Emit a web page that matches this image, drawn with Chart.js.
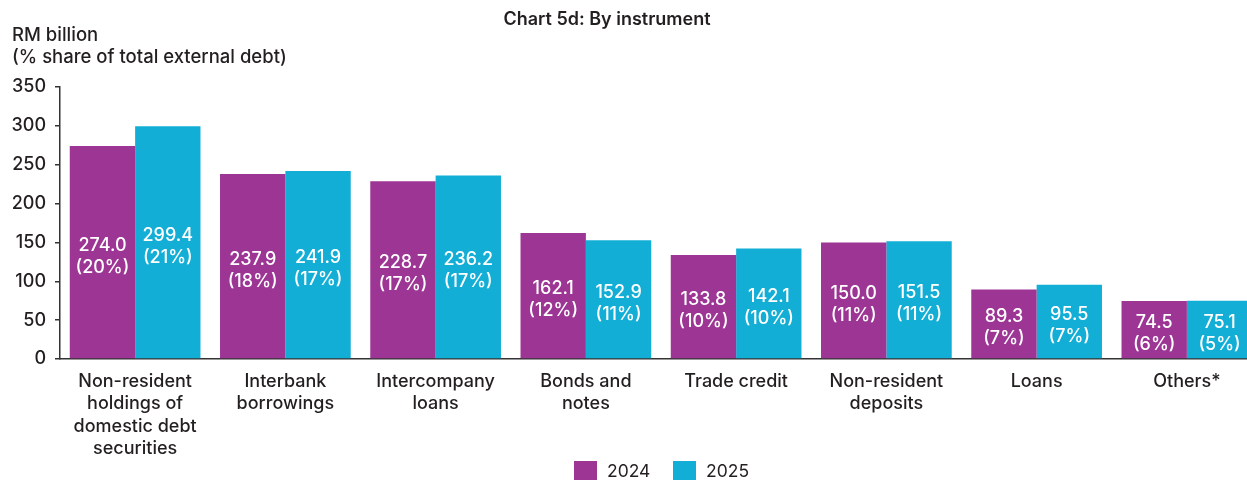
<!DOCTYPE html>
<html>
<head>
<meta charset="utf-8">
<script src="https://cdn.jsdelivr.net/npm/chart.js@4"></script>
<style>
  html, body { margin: 0; padding: 0; background: #fff; overflow: hidden; }
  #wrap { position: relative; width: 1265px; height: 480px; }
</style>
</head>
<body>
<div id="wrap"><canvas id="chart"></canvas></div>
<script>
// ── Data ────────────────────────────────────────────────────────────────
const categories = [
  ['Non-resident', 'holdings of', 'domestic debt', 'securities'],
  ['Interbank', 'borrowings'],
  ['Intercompany', 'loans'],
  ['Bonds and', 'notes'],
  ['Trade credit'],
  ['Non-resident', 'deposits'],
  ['Loans'],
  ['Others*'],
];
const values2024 = [274.0, 237.9, 228.7, 162.1, 133.8, 150.0, 89.3, 74.5];
const values2025 = [299.4, 241.9, 236.2, 152.9, 142.1, 151.5, 95.5, 75.1];
const share2024  = [20, 18, 17, 12, 10, 11, 7, 6];
const share2025  = [21, 17, 17, 11, 10, 11, 7, 5];
const yTicks     = [0, 50, 100, 150, 200, 250, 300, 350];

const PURPLE = '#9c3594';
const CYAN   = '#13aed6';
const INK    = '#231f20';
const FONT   = "Inter, 'Liberation Sans', Arial, sans-serif";

// ── Value + share labels inside each bar ────────────────────────────────
const barLabels = {
  id: 'barLabels',
  afterDatasetsDraw(chart) {
    const { ctx } = chart;
    const shares = [share2024, share2025];
    chart.data.datasets.forEach((ds, di) => {
      chart.getDatasetMeta(di).data.forEach((bar, i) => {
        const mid = (bar.y + bar.base) / 2 + 4;
        ctx.save();
        ctx.fillStyle = '#fff';
        ctx.font = `500 18px ${FONT}`;
        ctx.textAlign = 'center';
        ctx.textBaseline = 'middle';
        ctx.fillText(ds.data[i].toFixed(1), bar.x, mid - 11);
        ctx.fillText(`(${shares[di][i]}%)`, bar.x, mid + 11);
        ctx.restore();
      });
    });
  },
};

// ── Title, unit caption and legend ──────────────────────────────────────
const frameText = {
  id: 'frameText',
  afterDraw(chart) {
    const { ctx } = chart;
    ctx.save();
    ctx.fillStyle = INK;
    ctx.textBaseline = 'middle';

    ctx.font = `600 18px ${FONT}`;
    ctx.textAlign = 'center';
    ctx.fillText('Chart 5d: By instrument', 607, 20);

    ctx.font = `500 18.5px ${FONT}`;
    ctx.textAlign = 'left';
    ctx.fillText('RM billion', 12, 35);
    ctx.fillText('(% share of total external debt)', 12, 57);

    const items = [
      { text: '2024', color: PURPLE, x: 574 },
      { text: '2025', color: CYAN,   x: 673 },
    ];
    ctx.font = `17.5px ${FONT}`;
    items.forEach(it => {
      ctx.fillStyle = it.color;
      ctx.fillRect(it.x, 461, 23, 22);
      ctx.fillStyle = INK;
      ctx.fillText(it.text, it.x + 33, 472);
    });
    ctx.restore();
  },
};

new Chart(document.getElementById('chart'), {
  type: 'bar',
  data: {
    labels: categories,
    datasets: [
      { label: '2024', data: values2024, backgroundColor: PURPLE },
      { label: '2025', data: values2025, backgroundColor: CYAN },
    ],
  },
  options: {
    responsive: true,
    maintainAspectRatio: false,
    animation: false,
    layout: { padding: { top: 87, right: 3, left: 0, bottom: 0 } },
    datasets: { bar: { categoryPercentage: 0.87, barPercentage: 1.0, borderWidth: 0 } },
    plugins: {
      legend: { display: false },
      tooltip: { enabled: false },
      title: { display: false },
    },
    scales: {
      x: {
        grid: { display: false },
        border: { display: true, color: '#333', width: 1.5 },
        ticks: {
          color: INK,
          padding: 3,
          maxRotation: 0,
          autoSkip: false,
          font: { family: FONT, size: 18, weight: 500, lineHeight: 1.25 },
        },
        afterFit(scale) { scale.height = 121; },
      },
      y: {
        min: 0,
        max: 350,
        afterBuildTicks(scale) { scale.ticks = yTicks.map(v => ({ value: v })); },
        grid: { display: true, drawOnChartArea: false, drawTicks: true, tickLength: 5, color: '#333', lineWidth: 1.5 },
        border: { display: true, color: '#333', width: 1.5 },
        ticks: {
          color: INK,
          padding: 9,
          font: { family: FONT, size: 18, weight: 500 },
        },
        afterFit(scale) { scale.width = 60; },
      },
    },
  },
  plugins: [barLabels, frameText],
});
</script>
</body>
</html>
